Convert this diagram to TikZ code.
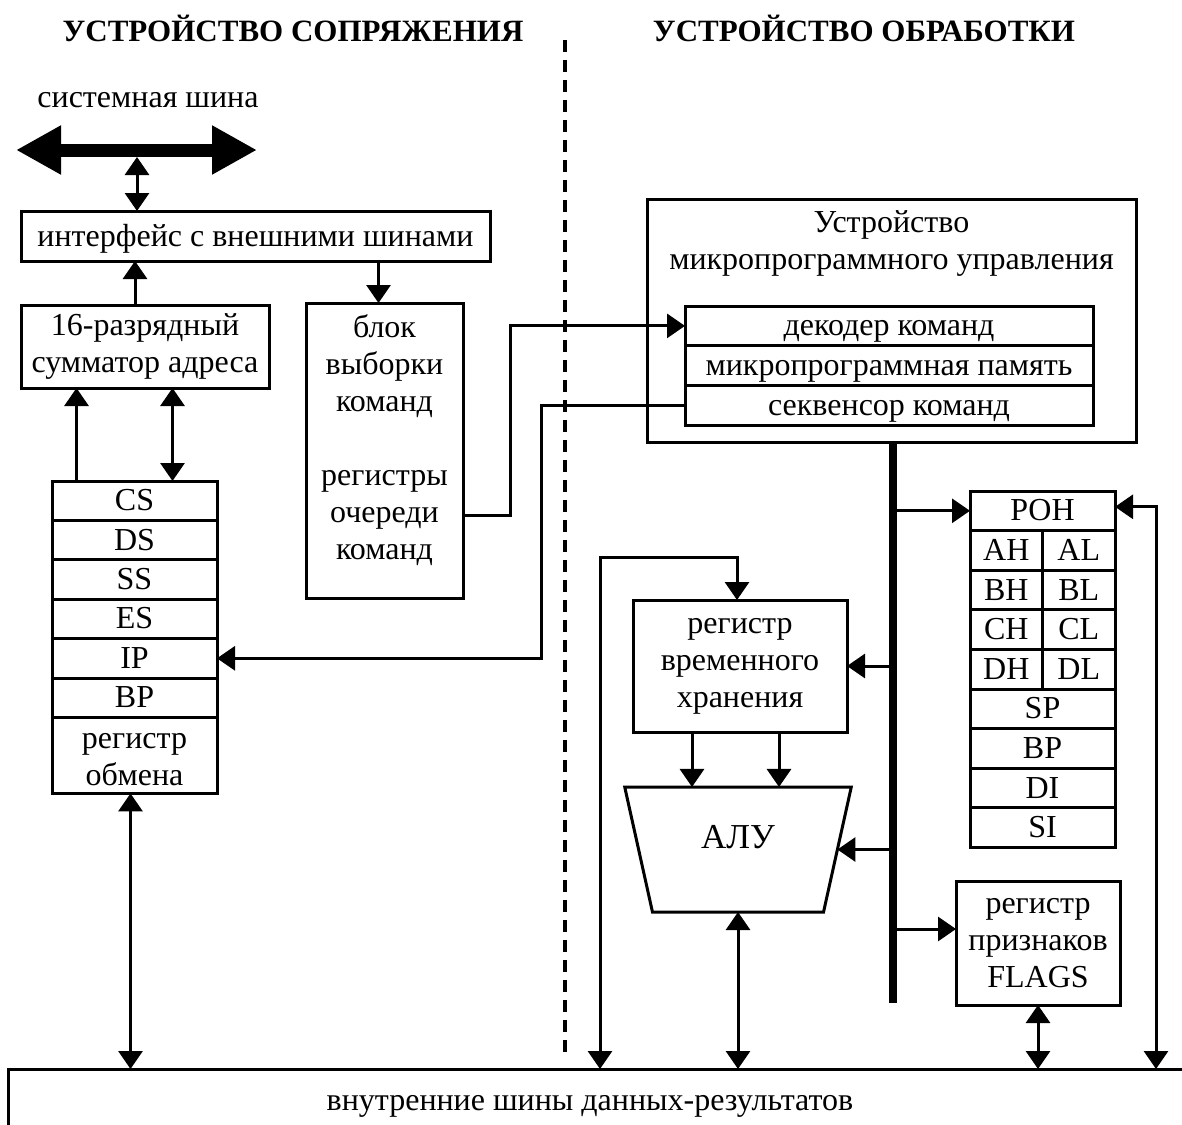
\documentclass[tikz,border=0pt]{standalone}
\usepackage{fontspec}
\setmainfont{Liberation Serif}
\usetikzlibrary{shapes.geometric, arrows.meta, positioning}

\begin{document}
\begin{tikzpicture}[
    x=1pt, y=-1pt,
    font=\fontsize{32}{37}\selectfont,
    line width=3pt,
    blk/.style={draw, line width=3pt, inner sep=0pt, outer sep=0pt},
    multi/.style={blk, align=center},
    one/.style={blk, text height=26pt, text depth=6pt},
    seg/.style={one, minimum width=165pt, minimum height=39.4pt},
    gpr/.style={one, minimum width=145pt, minimum height=39.6pt},
    half/.style={one, minimum width=72.5pt, minimum height=39.6pt},
    mcu/.style={one, minimum width=408pt, minimum height=39.7pt},
    head/.style={font=\fontsize{31}{36}\selectfont\bfseries},
    arr/.style={-{Triangle[length=18pt,width=24pt]}},
    darr/.style={{Triangle[length=18pt,width=24pt]}-{Triangle[length=18pt,width=24pt]}}
  ]
  \useasboundingbox (0,0) rectangle (1182,1124);

  \node[head] (hl) at (293,28) {УСТРОЙСТВО СОПРЯЖЕНИЯ};
  \node[head] (hr) at (864,28) {УСТРОЙСТВО ОБРАБОТКИ};
  \coordinate (divt) at (565,40);
  \coordinate (divb) at (565,1058);
  \draw[line width=4pt, dash pattern=on 12pt off 8pt] (divt) -- (divb);

  \node (sysbus) at (148,100) {системная шина};
  \coordinate (sysl) at (16,150);
  \coordinate (sysr) at (257,150);
  \draw[line width=13pt, {Triangle[length=45pt,width=46pt]}-{Triangle[length=45pt,width=46pt]}] (sysl) -- (sysr);

  \node[one, minimum width=469pt, minimum height=50pt] (ifc) at (255.5,236) {интерфейс с внешними шинами};
  \node[multi, minimum width=248pt, minimum height=83pt] (adder) at (145,346.5) {16-разрядный\\сумматор адреса};
  \node[blk, minimum width=157pt, minimum height=295pt] (fetch) at (384.5,450.5) {};
  \node[align=center, inner sep=0pt, below=10pt of fetch.north] (fetchtxt) {блок\\выборки\\команд\\[37pt]регистры\\очереди\\команд};

  \node[seg] (cs) at (134.5,500.7) {CS};
  \node[seg, below=0pt of cs] (ds) {DS};
  \node[seg, below=0pt of ds] (ss) {SS};
  \node[seg, below=0pt of ss] (es) {ES};
  \node[seg, below=0pt of es] (ip) {IP};
  \node[seg, below=0pt of ip] (bpseg) {BP};
  \node[seg, minimum height=76pt, below=0pt of bpseg] (xchg) {};
  \node[align=center, inner sep=0pt] (xchgtxt) at ([yshift=-4pt]xchg.center) {регистр\\обмена};

  \node[blk, minimum width=489pt, minimum height=243pt] (mpu) at (891.5,320.5) {};
  \node[align=center, inner sep=0pt, below=10pt of mpu.north] (mputxt) {Устройство\\микропрограммного управления};
  \node[mcu] (dec) at (889,325.9) {декодер команд};
  \node[mcu, below=0pt of dec] (mem) {микропрограммная память};
  \node[mcu, below=0pt of mem] (seq) {секвенсор команд};

  \coordinate (ibus) at (893,1003);
  \draw[line width=8pt] (mpu.south -| ibus) -- (ibus);

  \node[gpr] (ron) at (1042.5,510.8) {РОН};
  \node[half, anchor=north west] (ah) at (ron.south west) {AH};
  \node[half, right=0pt of ah] (al) {AL};
  \node[half, below=0pt of ah] (bh) {BH};
  \node[half, below=0pt of al] (bl) {BL};
  \node[half, below=0pt of bh] (ch) {CH};
  \node[half, below=0pt of bl] (cl) {CL};
  \node[half, below=0pt of ch] (dh) {DH};
  \node[half, below=0pt of cl] (dl) {DL};
  \node[gpr, anchor=north west] (sp) at (dh.south west) {SP};
  \node[gpr, below=0pt of sp] (bpgpr) {BP};
  \node[gpr, below=0pt of bpgpr] (di) {DI};
  \node[gpr, below=0pt of di] (si) {SI};

  \node[multi, minimum width=214pt, minimum height=132pt] (tmp) at (740,666) {регистр\\временного\\хранения};
  \node[blk, inner sep=2pt, trapezium, trapezium angle=65.5, shape border rotate=180, trapezium stretches=true,
    minimum width=228pt, minimum height=125pt] (alu) at (738,849.5) {\phantom{АЛУ}};
  \node[font=\fontsize{35}{40}\selectfont] (alutxt) at ([yshift=12pt]alu.center) {АЛУ};
  \node[multi, minimum width=164pt, minimum height=124pt] (flags) at (1038,943) {регистр\\признаков\\FLAGS};

  \node[blk, anchor=north west, minimum width=1200pt, minimum height=90pt] (dbus) at (8,1069) {};
  \node (dbustxt) at (590,1106) {внутренние шины данных-результатов};

  \coordinate (sysm) at (137,157);
  \draw[darr] (sysm) -- (sysm |- ifc.north);
  \coordinate (a1) at ([xshift=-10pt]adder.north);
  \draw[arr] (a1) -- (a1 |- ifc.south);
  \coordinate (a2) at ([xshift=-6pt]fetch.north);
  \draw[arr] (a2 |- ifc.south) -- (a2);
  \coordinate (s1) at ([xshift=-58pt]cs.north);
  \draw[arr] (s1) -- (s1 |- adder.south);
  \coordinate (s2) at ([xshift=38pt]cs.north);
  \draw[darr] (s2) -- (s2 |- adder.south);
  \coordinate (x1) at ([xshift=-4pt]xchg.south);
  \draw[darr] (x1) -- (x1 |- dbus.north);
  \draw[arr] ([yshift=-65pt]fetch.east) -- ++(47,0) |- (dec.west);
  \draw[arr] (seq.west) -- ++(-144,0) |- (ip.east);

  \draw[arr] (ron.west -| ibus) -- (ron.west);
  \draw[arr] (tmp.east -| ibus) -- (tmp.east);
  \draw[arr] (alu.east -| ibus) -- (alu.east);
  \coordinate (f1) at ([yshift=14pt]flags.west);
  \draw[arr] (f1 -| ibus) -- (f1);

  \coordinate (t1) at ([xshift=-48pt]tmp.south);
  \coordinate (t2) at ([xshift=39pt]tmp.south);
  \draw[arr] (t1) -- (t1 |- alu.north);
  \draw[arr] (t2) -- (t2 |- alu.north);
  \draw[darr] (alu.south) -- (alu.south |- dbus.north);
  \draw[darr] (flags.south) -- (flags.south |- dbus.north);

  \coordinate (rr) at (1156,1069);
  \draw[darr] (rr) |- ([yshift=4pt]ron.east);
  \coordinate (ll) at (600,1069);
  \coordinate (t0) at ([xshift=-3pt]tmp.north);
  \draw[darr] (ll) |- ([yshift=43pt]t0) -- (t0);
\end{tikzpicture}
\end{document}
